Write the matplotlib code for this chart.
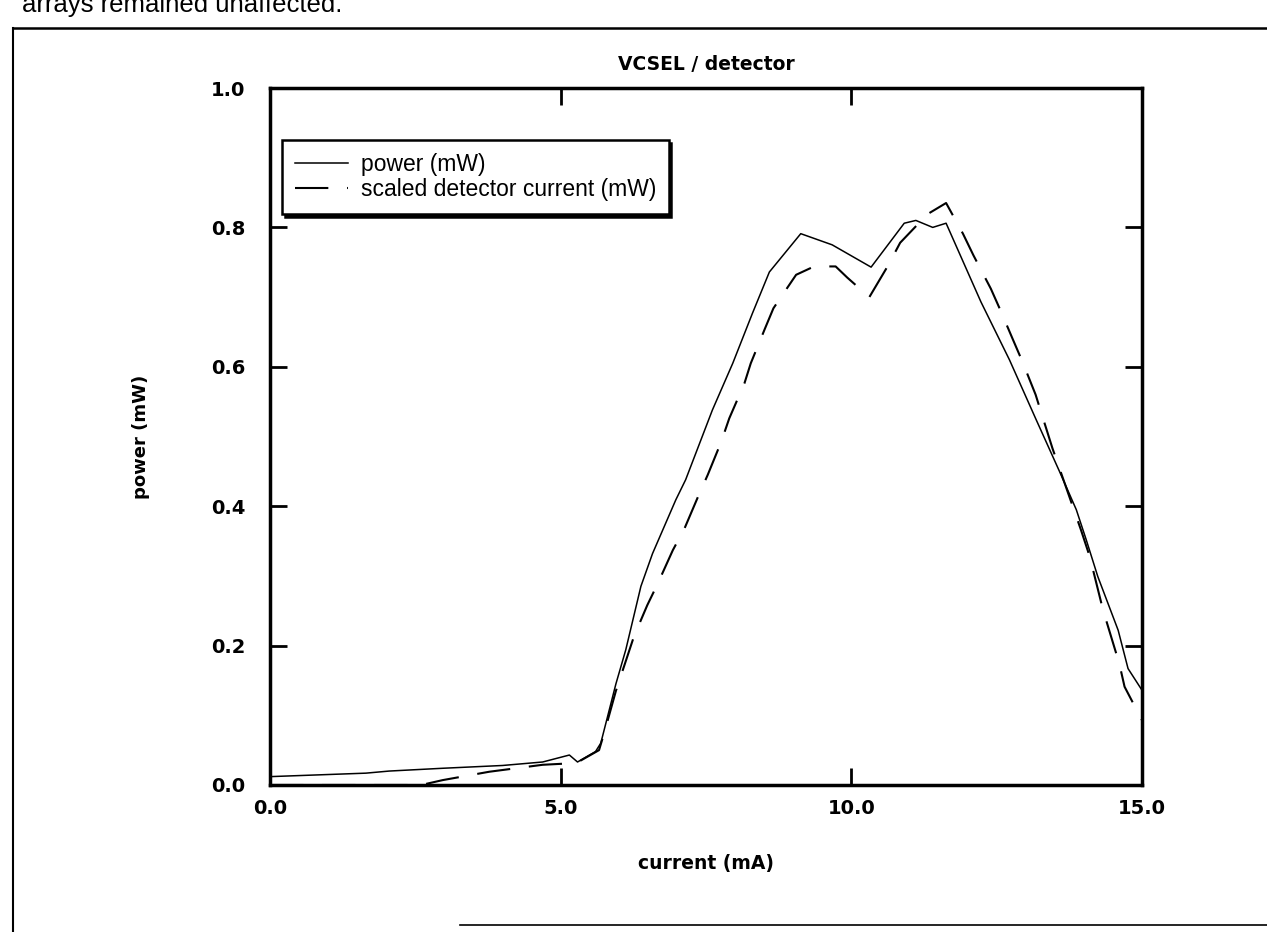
import numpy as np
import matplotlib
matplotlib.use('Agg')
import matplotlib.pyplot as plt
from matplotlib.lines import Line2D

# ── Data ──
power_x = [0.0, 1.65, 2.05, 2.97, 4.0, 4.69, 5.15, 5.29, 5.6, 5.69, 5.95, 6.12,
           6.38, 6.58, 6.98, 7.15, 7.61, 7.96, 8.30, 8.59, 9.13, 9.67, 10.34,
           10.91, 11.11, 11.4, 11.63, 12.23, 12.72, 13.18, 13.58, 13.87, 14.04,
           14.24, 14.59, 14.76, 15.0]
power_y = [0.012, 0.017, 0.020, 0.024, 0.028, 0.033, 0.043, 0.033, 0.048, 0.060,
           0.145, 0.194, 0.285, 0.332, 0.409, 0.438, 0.538, 0.605, 0.677, 0.736,
           0.791, 0.775, 0.743, 0.806, 0.810, 0.800, 0.806, 0.693, 0.610, 0.524,
           0.450, 0.395, 0.352, 0.299, 0.222, 0.167, 0.136]

det_x = [0.0, 2.6, 2.97, 3.77, 4.69, 5.15, 5.3, 5.66, 5.75, 5.95, 6.26, 6.49,
         6.67, 6.93, 7.13, 7.37, 7.53, 7.76, 7.90, 8.16, 8.27, 8.51, 8.66, 9.05,
         9.36, 9.73, 9.93, 10.31, 10.63, 10.84, 11.31, 11.63, 11.92, 12.10,
         12.40, 12.56, 12.78, 12.94, 13.17, 13.29, 13.46, 13.95, 14.1, 14.33,
         14.61, 14.7, 15.0]
det_y = [0.0, 0.0, 0.007, 0.019, 0.029, 0.031, 0.033, 0.050, 0.075, 0.135, 0.213,
         0.258, 0.289, 0.337, 0.368, 0.415, 0.445, 0.492, 0.526, 0.576, 0.605,
         0.654, 0.684, 0.732, 0.744, 0.744, 0.728, 0.700, 0.745, 0.778, 0.819,
         0.835, 0.791, 0.760, 0.712, 0.682, 0.639, 0.608, 0.560, 0.528, 0.483,
         0.366, 0.328, 0.251, 0.174, 0.141, 0.093]

x_ticks = [0.0, 5.0, 10.0, 15.0]
y_ticks = [0.0, 0.2, 0.4, 0.6, 0.8, 1.0]

fig = plt.figure(figsize=(12.67, 9.32), dpi=100)
fig.patch.set_facecolor('white')

# page frame around the figure (scanned document)
W, H = 1267.0, 932.0
fig.add_artist(Line2D([13 / W, 13 / W], [0, 1 - 28 / H], color='black', lw=1.5))
fig.add_artist(Line2D([13 / W, 1.0], [1 - 28 / H, 1 - 28 / H], color='black', lw=1.8))
fig.add_artist(Line2D([460 / W, 1.0], [1 - 925 / H, 1 - 925 / H], color='black', lw=1.2))

# text from the page above, cut by the scan edge
fig.text(22 / W, 1 - 12 / H, 'arrays remained unaffected.', fontsize=18.5,
         family='Liberation Sans', va='baseline', ha='left')

ax = fig.add_axes([270 / W, 1 - 785 / H, (1142 - 270) / W, (785 - 88) / H])

ax.plot(power_x, power_y, color='black', lw=1.1, label='power (mW)')
ax.plot(det_x, det_y, color='black', lw=1.5, dashes=(16, 9),
        label='scaled detector current (mW)')

ax.set_xlim(0, 15)
ax.set_ylim(0, 1.0)
ax.set_xticks(x_ticks)
ax.set_yticks(y_ticks)
ax.set_xticklabels([f'{v:.1f}' for v in x_ticks], fontweight='bold', fontsize=14)
ax.set_yticklabels([f'{v:.1f}' for v in y_ticks], fontweight='bold', fontsize=14)
ax.tick_params(direction='in', top=True, right=True, length=12, width=2)
ax.tick_params(axis='y', pad=18)
ax.tick_params(axis='x', pad=10)
for s in ax.spines.values():
    s.set_linewidth(2.5)

ax.set_title('VCSEL / detector', fontsize=13.5, fontweight='bold', pad=13)
ax.set_xlabel('current (mA)', fontsize=13.5, fontweight='bold', labelpad=26)
ax.set_ylabel('power (mW)', fontsize=13, fontweight='bold', labelpad=44)

leg = ax.legend(loc='upper left', bbox_to_anchor=(0.014, 0.925), borderaxespad=0,
                frameon=True, fancybox=False,
                shadow={'ox': 2, 'oy': -2, 'facecolor': 'black', 'edgecolor': 'black', 'alpha': 1.0},
                prop={'family': 'Liberation Sans', 'size': 16.5},
                handlelength=2.3, handletextpad=0.57, borderpad=0.55, labelspacing=0.1)
leg.get_frame().set_edgecolor('black')
leg.get_frame().set_linewidth(1.8)
leg.get_frame().set_alpha(1.0)

fig.savefig('out.png', dpi=100)
